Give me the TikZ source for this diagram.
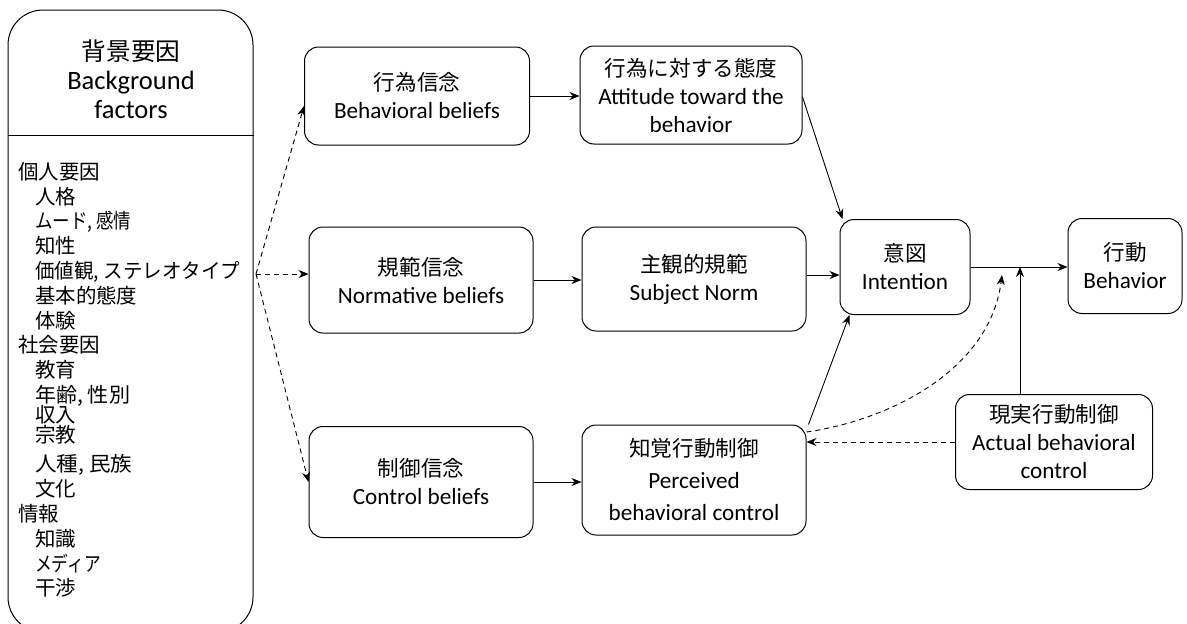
\documentclass[tikz,border=0pt]{standalone}
\usepackage{graphicx}
\usepackage{fontspec}
\setmainfont{Carlito}
\newfontfamily\jp[Scale=0.93]{Noto Sans CJK JP}
\newfontfamily\jpp[Scale=0.96]{Noto Sans CJK JP}
\newcommand\fitw[2]{\resizebox{#1}{\height}{#2}}
\usetikzlibrary{arrows.meta}
\begin{document}
\begin{tikzpicture}[x=1pt,y=-1pt,
  box/.style={draw, line width=1pt, rounded corners=14pt, align=center, inner sep=0pt, font=\fontsize{23.2}{28}\selectfont},
  arr/.style={line width=0.9pt, -{Stealth[length=10pt,width=8pt]}},
  dsh/.style={arr, dash pattern=on 5pt off 4pt}]
\useasboundingbox (0,0) rectangle (1187,624);
% background factors box
\node[draw, line width=1pt, rounded corners=35pt, minimum width=245pt, minimum height=622pt] (LB) at (130.5,321) {};
\coordinate (D) at (0,135);
\draw[line width=1pt] (LB.west |- D) -- (LB.east |- D);
\node[align=center, inner sep=0pt, font=\fontsize{26.5}{29}\selectfont] (T) at (131,79) {{\jp 背景要因}\\Background\\factors};
\node[anchor=north west, align=left, inner sep=0pt, font=\jpp\fontsize{21.3}{24.8}\selectfont] (L) at (18,162) {個人要因\\
\hspace*{17pt}人格\\
\hspace*{17pt}\fitw{96pt}{ムード, 感情}\\
\hspace*{17pt}知性\\
\hspace*{17pt}\fitw{205pt}{価値観, ステレオタイプ}\\
\hspace*{17pt}基本的態度\\
\hspace*{17pt}体験\\
社会要因\\
\hspace*{17pt}教育\\
\hspace*{17pt}\fitw{95pt}{年齢, 性別}\\[-5pt]
\hspace*{17pt}収入\\[-5pt]
\hspace*{17pt}宗教\\[5pt]
\hspace*{17pt}\fitw{97pt}{人種, 民族}\\
\hspace*{17pt}文化\\
情報\\
\hspace*{17pt}知識\\
\hspace*{17pt}\fitw{66pt}{メディア}\\
\hspace*{17pt}干渉};
% boxes
\node[box, minimum width=225pt, minimum height=98pt] (BB) at (417,96) {{\jp 行為信念}\\Behavioral beliefs};
\node[box, minimum width=222pt, minimum height=98pt] (AT) at (691,95) {{\jp 行為に対する態度}\\Attitude toward the\\behavior};
\node[box, minimum width=224pt, minimum height=106pt] (NB) at (421,280) {{\jp 規範信念}\\Normative beliefs};
\node[box, minimum width=224pt, minimum height=104pt] (SN) at (694,279) {{\jp 主観的規範}\\Subject Norm};
\node[box, minimum width=224pt, minimum height=111pt] (CB) at (421,482) {{\jp 制御信念}\\Control beliefs};
\node[box, minimum width=224pt, minimum height=110pt, font=\fontsize{23.2}{32}\selectfont] (PBC) at (694,480) {{\jp 知覚行動制御}\\Perceived\\behavioral control};
\node[box, minimum width=130pt, minimum height=95pt] (IN) at (905,267) {{\jp 意図}\\Intention};
\node[box, minimum width=114pt, minimum height=95pt] (BE) at (1125,266) {{\jp 行動}\\Behavior};
\node[box, minimum width=197pt, minimum height=95pt] (AC) at (1054,442) {{\jp 現実行動制御}\\Actual behavioral\\control};
% connectors
\coordinate (F) at (256,274);
\draw[dsh] (F) -- ([yshift=-10pt]BB.west);
\draw[dsh] (F) -- (F -| NB.west);
\draw[dsh] (F) -- (CB.west);
\draw[arr] (BB.east) -- (BB.east -| AT.west);
\draw[arr] (NB.east) -- (NB.east -| SN.west);
\draw[arr] ([yshift=4pt]SN.east) -- ([yshift=4pt]SN.east -| IN.west);
\draw[arr] (CB.east) -- (CB.east -| PBC.west);
\draw[arr] ([yshift=-2pt]AT.east) -- ([xshift=3pt]IN.north west);
\draw[arr] ([xshift=2pt]PBC.north east) -- ([xshift=10pt]IN.south west);
\draw[arr] (IN.east) -- (IN.east -| BE.west);
\coordinate (J) at (1020,267);
\draw[arr] (AC.north -| J) -- (J);
\coordinate (K) at (1002,275);
\draw[dsh] ([yshift=48pt]PBC.east) .. controls (890,420) and (990,370) .. (K);
\draw[dsh] (AC.west) -- (AC.west -| PBC.east);
\end{tikzpicture}
\end{document}
